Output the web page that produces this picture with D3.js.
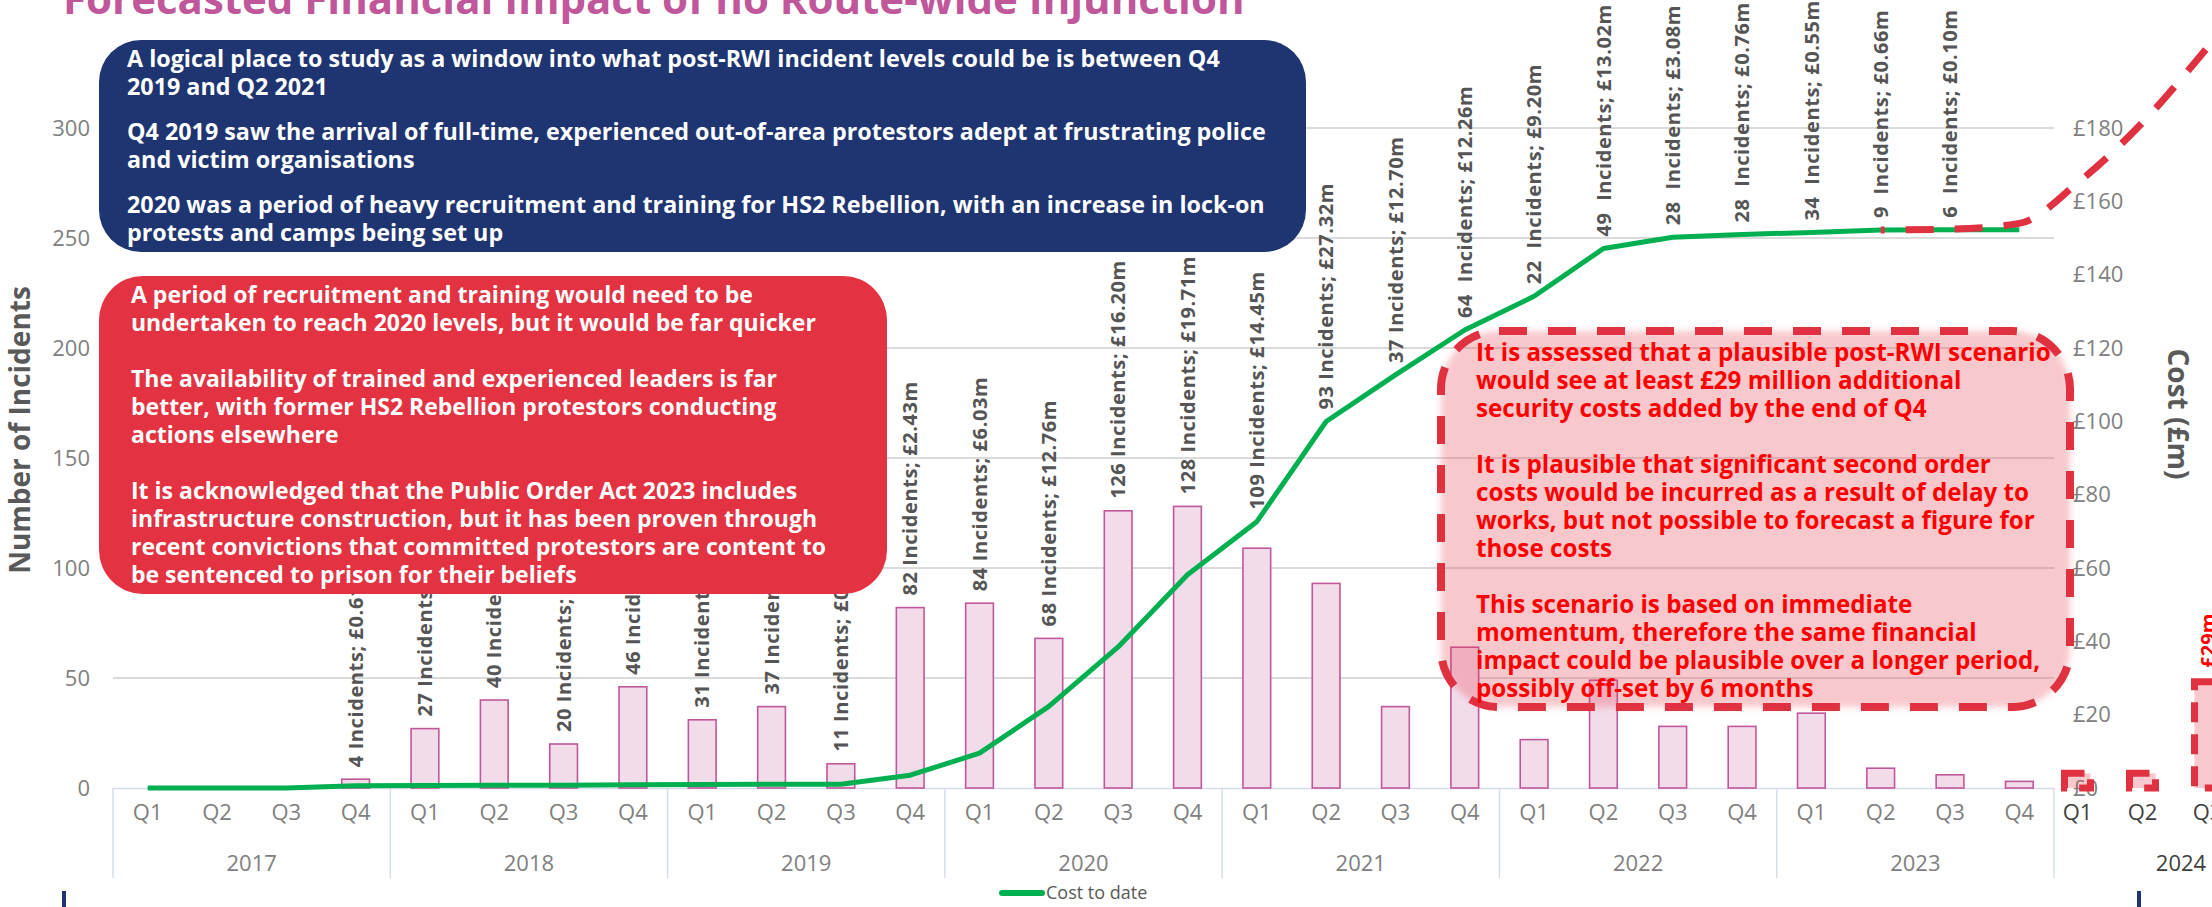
<!DOCTYPE html>
<html>
<head>
<meta charset="utf-8">
<script src="https://cdn.jsdelivr.net/npm/d3@7"></script>
<style>
  html, body { margin: 0; padding: 0; background: #ffffff; }
  svg { display: block; font-family: "Open Sans", sans-serif; }
</style>
</head>
<body>
<svg id="chart" width="2212" height="907"></svg>
<script>
// ---- Data -------------------------------------------------------------
const years = ["2017", "2018", "2019", "2020", "2021", "2022", "2023"];
const quarters = ["Q1", "Q2", "Q3", "Q4"];

// Incidents per quarter, 2017 Q1 .. 2023 Q4
const incidents = [
  0, 0, 0, 4,
  27, 40, 20, 46,
  31, 37, 11, 82,
  84, 68, 126, 128,
  109, 93, 37, 64,
  22, 49, 28, 28,
  34, 9, 6, 3
];

// Security cost per quarter (£m); null = not yet reported
const costM = [
  0, 0, 0, 0.61,
  0.05, 0.08, 0.03, 0.10,
  0.06, 0.07, 0.05, 2.43,
  6.03, 12.76, 16.20, 19.71,
  14.45, 27.32, 12.70, 12.26,
  9.20, 13.02, 3.08, 0.76,
  0.55, 0.66, 0.10, null
];

// Post-RWI scenario
const forecastYear = "2024";
const forecastQuarterCostM = [4, 4, 29];            // Q1..Q3 2024
const forecastPathKeys = ["2023 Q2", "2023 Q3", "2023 Q4", "2024 Q1", "2024 Q2", "2024 Q3"];
const forecastPathCostM = [152.2, 152.4, 154, 165, 181.5, 202];

const leftTicks = [0, 50, 100, 150, 200, 250, 300];
const rightTicks = [0, 20, 40, 60, 80, 100, 120, 140, 160, 180];

const titleText = "Forecasted Financial Impact of no Route-wide Injunction";
const legendText = "Cost to date";

const navyNotes = [
  ["A logical place to study as a window into what post-RWI incident levels could be is between Q4", "2019 and Q2 2021"],
  ["Q4 2019 saw the arrival of full-time, experienced out-of-area protestors adept at frustrating police", "and victim organisations"],
  ["2020 was a period of heavy recruitment and training for HS2 Rebellion, with an increase in lock-on", "protests and camps being set up"]
];
const redNotes = [
  ["A period of recruitment and training would need to be", "undertaken to reach 2020 levels, but it would be far quicker"],
  ["The availability of trained and experienced leaders is far", "better, with former HS2 Rebellion protestors conducting", "actions elsewhere"],
  ["It is acknowledged that the Public Order Act 2023 includes", "infrastructure construction, but it has been proven through", "recent convictions that committed protestors are content to", "be sentenced to prison for their beliefs"]
];
const scenarioNotes = [
  ["It is assessed that a plausible post-RWI scenario", "would see at least £29 million additional", "security costs added by the end of Q4"],
  ["It is plausible that significant second order", "costs would be incurred as a result of delay to", "works, but not possible to forecast a figure for", "those costs"],
  ["This scenario is based on immediate", "momentum, therefore the same financial", "impact could be plausible over a longer period,", "possibly off-set by 6 months"]
];

// ---- Derived series ---------------------------------------------------
const keys = years.flatMap(y => quarters.map(q => `${y} ${q}`));
const cumulative = Array.from(d3.cumsum(costM, c => c == null ? 0 : c));
const rows = keys.map((k, i) => ({
  key: k, year: k.slice(0, 4), q: k.slice(5),
  n: incidents[i], cost: costM[i], cum: cumulative[i], i
}));

// ---- Colours ----------------------------------------------------------
const C = {
  title: "#c0579b",
  barFill: "#f2dcea",
  barStroke: "#c0579b",
  line: "#00b050",
  grid: "#cfcfcf",
  axisLine: "#d5dcee",
  tick: "#808080",
  label: "#555555",
  axisTitle: "#595959",
  navy: "#1f3572",
  red: "#e33241",
  scenarioStroke: "#e03141",
  scenarioText: "#ff0000"
};

// ---- Layout -----------------------------------------------------------
const svg = d3.select("#chart");
const plotL = 113, plotR = 2054, plotT = 128, plotB = 788;

const x = d3.scaleBand().domain(keys).range([plotL, plotR]).paddingInner(0.6).paddingOuter(0.3);
const xYear = d3.scaleBand().domain(years).range([plotL, plotR]);
const x24 = d3.scaleBand().domain(quarters).range([2045, 2305]).paddingInner(0.6).paddingOuter(0.3);
const yL = d3.scaleLinear().domain([0, 300]).range([plotB, plotT]);
const yR = d3.scaleLinear().domain([0, 180]).range([plotB, plotT]);

const cx = k => {
  const [yr, q] = k.split(" ");
  return yr === forecastYear ? x24(q) + x24.bandwidth() / 2 : x(k) + x.bandwidth() / 2;
};

// ---- Title (runs off the top edge) -----------------------------------
svg.append("text")
  .attr("x", 63).attr("y", 14)
  .attr("font-size", 42).attr("font-weight", 700)
  .attr("fill", C.title)
  .text(titleText);

// ---- Gridlines --------------------------------------------------------
svg.append("g").selectAll("line")
  .data(leftTicks.filter(t => t > 0))
  .join("line")
  .attr("x1", plotL).attr("x2", plotR)
  .attr("y1", d => yL(d)).attr("y2", d => yL(d))
  .attr("stroke", C.grid).attr("stroke-width", 1.3);

// ---- Left axis --------------------------------------------------------
const axL = svg.append("g").attr("transform", `translate(${plotL - 14},0)`)
  .call(d3.axisLeft(yL).tickValues(leftTicks).tickSize(0).tickPadding(9));
axL.select(".domain").remove();
axL.selectAll("text").attr("font-size", 22).attr("fill", C.tick).attr("font-family", "Open Sans");

// ---- Right axis -------------------------------------------------------
const axR = svg.append("g").attr("transform", `translate(2064,0)`)
  .call(d3.axisRight(yR).tickValues(rightTicks).tickSize(0).tickPadding(9).tickFormat(d => `£${d}`));
axR.select(".domain").remove();
axR.selectAll("text").attr("font-size", 22).attr("fill", C.tick).attr("font-family", "Open Sans");

// ---- Axis titles ------------------------------------------------------
svg.append("text")
  .attr("transform", "translate(30,430) rotate(-90)")
  .attr("text-anchor", "middle")
  .attr("font-size", 28).attr("font-weight", 700).attr("fill", C.axisTitle)
  .text("Number of Incidents");
svg.append("text")
  .attr("transform", "translate(2168,414) rotate(90)")
  .attr("text-anchor", "middle")
  .attr("font-size", 28).attr("font-weight", 700).attr("fill", C.axisTitle)
  .text("Cost (£m)");

// ---- Category axis (quarters + years) ---------------------------------
const axX = svg.append("g").attr("transform", `translate(0,${plotB})`)
  .call(d3.axisBottom(x).tickSize(0).tickPadding(16).tickFormat(k => k.slice(5)));
axX.select(".domain").remove();
axX.selectAll("text").attr("font-size", 22).attr("fill", C.tick).attr("font-family", "Open Sans");

svg.append("line")
  .attr("x1", plotL).attr("x2", plotR).attr("y1", plotB + 0.5).attr("y2", plotB + 0.5)
  .attr("stroke", C.axisLine).attr("stroke-width", 1.5);

const yearEdges = years.map(y => xYear(y)).concat([plotR]);
svg.append("g").selectAll("line")
  .data(yearEdges)
  .join("line")
  .attr("x1", d => d).attr("x2", d => d)
  .attr("y1", plotB).attr("y2", plotB + 90)
  .attr("stroke", C.axisLine).attr("stroke-width", 1.5);

svg.append("g").selectAll("text")
  .data(years)
  .join("text")
  .attr("x", d => xYear(d) + xYear.bandwidth() / 2)
  .attr("y", plotB + 83)
  .attr("text-anchor", "middle")
  .attr("font-size", 22).attr("fill", C.tick)
  .text(d => d);

// ---- Bars ---------------------------------------------------------------
svg.append("g").selectAll("rect")
  .data(rows.filter(r => r.n > 0))
  .join("rect")
  .attr("x", r => x(r.key))
  .attr("width", x.bandwidth())
  .attr("y", r => yL(r.n))
  .attr("height", r => plotB - yL(r.n))
  .attr("fill", C.barFill)
  .attr("stroke", C.barStroke).attr("stroke-width", 1.6);

// ---- Cost-to-date line -----------------------------------------------
const line = d3.line()
  .x(r => x(r.key) + x.bandwidth() / 2)
  .y(r => yR(r.cum));
svg.append("path")
  .datum(rows)
  .attr("d", line)
  .attr("fill", "none")
  .attr("stroke", C.line).attr("stroke-width", 5)
  .attr("stroke-linejoin", "round");

// ---- Bar labels ---------------------------------------------------------
svg.append("g").selectAll("text")
  .data(rows.filter(r => r.n > 0 && r.cost != null))
  .join("text")
  .attr("transform", r => {
    const px = x(r.key) + x.bandwidth() / 2;
    const py = Math.min(yL(r.n), yR(r.cum)) - 12;
    return `translate(${px},${py}) rotate(-90)`;
  })
  .attr("dy", "0.36em")
  .attr("font-size", 20).attr("font-weight", 700)
  .attr("letter-spacing", 0.6)
  .attr("fill", C.label)
  .style("white-space", "pre")
  .text(r => `${r.n}${r.i >= 19 ? "  " : " "}Incidents; £${r.cost.toFixed(2)}m`);

// ---- Legend -------------------------------------------------------------
svg.append("line")
  .attr("x1", 1002).attr("x2", 1042).attr("y1", 893).attr("y2", 893)
  .attr("stroke", C.line).attr("stroke-width", 6).attr("stroke-linecap", "round");
svg.append("text")
  .attr("x", 1046).attr("y", 899)
  .attr("font-size", 18).attr("fill", C.axisTitle)
  .text(legendText);

// ---- Frame marks at the foot ----------------------------------------------
svg.append("g").selectAll("line")
  .data([64, 2139])
  .join("line")
  .attr("x1", d => d).attr("x2", d => d)
  .attr("y1", 891).attr("y2", 907)
  .attr("stroke", C.navy).attr("stroke-width", 4);

// ---- Note boxes -----------------------------------------------------------
function noteBox(paras, o) {
  const g = svg.append("g");
  if (o.fill) {
    g.append("rect")
      .attr("x", o.x).attr("y", o.y).attr("width", o.w).attr("height", o.h)
      .attr("rx", o.r).attr("ry", o.r)
      .attr("fill", o.fill)
      .attr("filter", o.filter || null);
  }
  if (o.stroke) {
    g.append("rect")
      .attr("x", o.x).attr("y", o.y).attr("width", o.w).attr("height", o.h)
      .attr("rx", o.r).attr("ry", o.r)
      .attr("fill", "none")
      .attr("stroke", o.stroke).attr("stroke-width", o.sw)
      .attr("stroke-dasharray", o.dash);
  }
  const t = g.append("text")
    .attr("font-size", o.size).attr("font-weight", 700).attr("fill", o.color);
  let yy = o.firstLine;
  paras.forEach((lines, pi) => {
    if (pi > 0) yy += o.paraGap - o.lh;
    lines.forEach(s => {
      t.append("tspan").attr("x", o.tx).attr("y", yy + o.size * 0.36).text(s);
      yy += o.lh;
    });
  });
}

noteBox(navyNotes, {
  x: 99, y: 40, w: 1207, h: 212, r: 42, fill: C.navy,
  tx: 127, firstLine: 59, lh: 27.5, paraGap: 45.5, size: 23.3, color: "#ffffff"
});
noteBox(redNotes, {
  x: 99, y: 276, w: 788, h: 318, r: 44, fill: C.red,
  tx: 131, firstLine: 295, lh: 28, paraGap: 56, size: 23, color: "#ffffff"
});

// soft edge for the scenario panel
const defs = svg.append("defs");
defs.append("filter").attr("id", "soft")
  .attr("x", "-5%").attr("y", "-5%").attr("width", "110%").attr("height", "110%")
  .append("feGaussianBlur").attr("stdDeviation", 3);

noteBox(scenarioNotes, {
  x: 1441, y: 331, w: 629, h: 376, r: 58,
  fill: "rgba(232, 60, 75, 0.28)", filter: "url(#soft)",
  stroke: C.scenarioStroke, sw: 8, dash: "28 21",
  tx: 1476, firstLine: 352, lh: 28, paraGap: 56, size: 24.2, color: C.scenarioText
});

// ---- 2024 scenario quarters -------------------------------------------
const axX24 = svg.append("g").attr("transform", `translate(0,${plotB})`)
  .call(d3.axisBottom(x24).tickSize(0).tickPadding(16));
axX24.select(".domain").remove();
axX24.selectAll("text").attr("font-size", 22).attr("fill", "#404040").attr("font-family", "Open Sans");
svg.append("text")
  .attr("x", x24.range()[0] + (x24.range()[1] - x24.range()[0]) / 2 + 6)
  .attr("y", plotB + 83)
  .attr("text-anchor", "middle")
  .attr("font-size", 22).attr("fill", "#404040")
  .text(forecastYear);

const f24 = forecastQuarterCostM.map((v, i) => ({ q: quarters[i], v }));
svg.append("g").selectAll("rect")
  .data(f24)
  .join("rect")
  .attr("x", d => x24(d.q))
  .attr("width", x24.bandwidth())
  .attr("y", d => yR(d.v))
  .attr("height", d => plotB - yR(d.v))
  .attr("fill", "rgba(232, 60, 75, 0.28)")
  .attr("stroke", C.scenarioStroke).attr("stroke-width", 7)
  .attr("stroke-dasharray", "20 12");

const peak = f24[f24.length - 1];
svg.append("text")
  .attr("transform", `translate(${x24(peak.q) + x24.bandwidth() / 2},${yR(peak.v) - 14}) rotate(-90)`)
  .attr("dy", "0.36em")
  .attr("font-size", 20).attr("font-weight", 700).attr("fill", C.scenarioText)
  .text(`£${peak.v}m`);

// ---- Scenario cost path --------------------------------------------------
const fLine = d3.line()
  .x(d => cx(d.k))
  .y(d => yR(d.v))
  .curve(d3.curveMonotoneX);
svg.append("path")
  .datum(forecastPathKeys.map((k, i) => ({ k, v: forecastPathCostM[i] })))
  .attr("d", fLine)
  .attr("fill", "none")
  .attr("stroke", C.scenarioStroke).attr("stroke-width", 7)
  .attr("stroke-dasharray", "28 21")
  .attr("stroke-dashoffset", -25);
</script>
</body>
</html>
